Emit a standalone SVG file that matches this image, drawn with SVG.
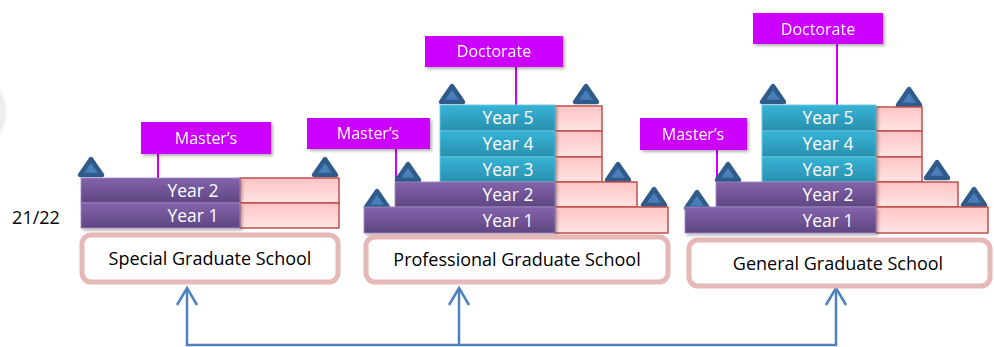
<svg xmlns="http://www.w3.org/2000/svg" width="994" height="347" viewBox="0 0 994 347">
<style>
.lbl{fill:#cc00ff}
.lt{font-family:"Open Sans","Liberation Sans",Arial,sans-serif;font-size:16px;fill:#fff;text-anchor:middle}
.yt{font-family:"Open Sans","Liberation Sans",Arial,sans-serif;font-size:17.5px;fill:#fff;text-anchor:middle}
.st{font-family:"Open Sans","Liberation Sans",Arial,sans-serif;font-size:18px;fill:#000;text-anchor:middle}
.pk{fill:url(#gPink);stroke:#c0504d;stroke-width:1.5}
.pu{fill:url(#gPurple);stroke:#a08cc0;stroke-width:0.8}
.cy{fill:url(#gCyan);stroke:#6cc8e0;stroke-width:0.8}
.sch{fill:#fff;stroke:#e6b9b8;stroke-width:5}
.mc{stroke:#cc00ff;stroke-width:2;fill:none}
.bc{stroke:#4f81bd;stroke-width:2.5;fill:none}
</style>
<defs>
<linearGradient id="gPink" x1="0" y1="0" x2="0" y2="1"><stop offset="0" stop-color="#ffc4c4"/><stop offset="1" stop-color="#ffe4e4"/></linearGradient>
<linearGradient id="gPurple" x1="0" y1="0" x2="0" y2="1"><stop offset="0" stop-color="#8463ab"/><stop offset="1" stop-color="#5e4682"/></linearGradient>
<linearGradient id="gCyan" x1="0" y1="0" x2="0" y2="1"><stop offset="0" stop-color="#36b4d6"/><stop offset="1" stop-color="#2a8fae"/></linearGradient>
<filter id="sh" x="-10%" y="-20%" width="130%" height="160%"><feDropShadow dx="2" dy="2" stdDeviation="1.5" flood-color="#000" flood-opacity="0.3"/></filter>
<filter id="bl"><feGaussianBlur stdDeviation="2"/></filter>
<path id="tri" d="M0,0 L-11,16 L11,16 Z" fill="#4a7ebb" stroke="#2f5b8a" stroke-width="4.5" stroke-linejoin="round"/>
<path id="ahd" d="M-10,17 L0,0 L10,17" fill="none" stroke="#4f81bd" stroke-width="2.5"/>
</defs>
<rect width="994" height="347" fill="#fff"/>
<ellipse cx="-42" cy="112" rx="45" ry="40" fill="none" stroke="#d8d8d8" stroke-width="3" filter="url(#bl)"/>
<text x="36" y="224" font-family="Open Sans,Liberation Sans,Arial,sans-serif" font-size="18" text-anchor="middle" fill="#000">21/22</text>

<g id="connectors">
<line class="mc" x1="158" y1="154" x2="158" y2="178"/>
<line class="mc" x1="396" y1="149" x2="396" y2="182"/>
<line class="mc" x1="516" y1="67" x2="516" y2="105"/>
<line class="mc" x1="717" y1="150" x2="717" y2="182"/>
<line class="mc" x1="837" y1="44" x2="837" y2="105"/>
<polyline class="bc" points="187,289 187,345 836,345 836,289"/>
<line class="bc" x1="459" y1="345" x2="459" y2="289"/>
<use href="#ahd" x="187" y="288"/>
<use href="#ahd" x="459" y="288"/>
<use href="#ahd" x="836" y="288"/>
</g>

<g id="special">
<g id="special-masters" filter="url(#sh)"><rect class="lbl" x="141" y="122" width="130" height="32"/><text class="lt" x="206" y="144">Master’s</text></g>
<use href="#tri" x="91" y="159"/><use href="#tri" x="325" y="159"/>
<g id="special-y2"><rect class="pk" x="240" y="178" width="99" height="25"/><rect class="pu" x="81" y="178" width="159" height="25" filter="url(#sh)"/><text class="yt" x="193" y="197">Year 2</text></g>
<g id="special-y1"><rect class="pk" x="240" y="203" width="99" height="25"/><rect class="pu" x="81" y="203" width="159" height="25" filter="url(#sh)"/><text class="yt" x="193" y="222">Year 1</text></g>
<g id="special-school"><rect class="sch" x="82" y="235" width="256" height="47" rx="9"/><text class="st" x="210" y="265">Special Graduate School</text></g>
</g>

<g id="professional">
<g id="prof-doctorate" filter="url(#sh)"><rect class="lbl" x="425" y="36" width="138" height="31"/><text class="lt" x="494" y="57">Doctorate</text></g>
<g id="prof-masters" filter="url(#sh)"><rect class="lbl" x="307" y="118" width="123" height="31"/><text class="lt" x="368" y="139">Master’s</text></g>
<use href="#tri" x="452" y="86"/><use href="#tri" x="586" y="86"/>
<use href="#tri" x="408" y="164"/><use href="#tri" x="618" y="164"/>
<use href="#tri" x="377" y="191"/><use href="#tri" x="654" y="189"/>
<g id="prof-y5"><rect class="pk" x="555" y="106" width="47" height="25"/><rect class="cy" x="440" y="105" width="115" height="26" filter="url(#sh)"/><text class="yt" x="508" y="124">Year 5</text></g>
<g id="prof-y4"><rect class="pk" x="555" y="131" width="47" height="26"/><rect class="cy" x="440" y="131" width="115" height="26" filter="url(#sh)"/><text class="yt" x="508" y="150">Year 4</text></g>
<g id="prof-y3"><rect class="pk" x="555" y="157" width="47" height="25"/><rect class="cy" x="440" y="157" width="115" height="25" filter="url(#sh)"/><text class="yt" x="508" y="176">Year 3</text></g>
<g id="prof-y2"><rect class="pk" x="555" y="182" width="82" height="25"/><rect class="pu" x="395" y="182" width="160" height="25" filter="url(#sh)"/><text class="yt" x="508" y="201">Year 2</text></g>
<g id="prof-y1"><rect class="pk" x="555" y="207" width="113" height="26"/><rect class="pu" x="364" y="207" width="191" height="26" filter="url(#sh)"/><text class="yt" x="508" y="227">Year 1</text></g>
<g id="prof-school"><rect class="sch" x="366" y="237" width="302" height="45" rx="9"/><text class="st" x="517" y="266">Professional Graduate School</text></g>
</g>

<g id="general">
<g id="gen-doctorate" filter="url(#sh)"><rect class="lbl" x="753" y="13" width="130" height="31"/><text class="lt" x="818" y="35">Doctorate</text></g>
<g id="gen-masters" filter="url(#sh)"><rect class="lbl" x="640" y="118" width="107" height="32"/><text class="lt" x="693" y="140">Master’s</text></g>
<use href="#tri" x="773" y="86"/><use href="#tri" x="909" y="89"/>
<use href="#tri" x="728" y="164"/><use href="#tri" x="937" y="162"/>
<use href="#tri" x="697" y="192"/><use href="#tri" x="974" y="189"/>
<g id="gen-y5"><rect class="pk" x="876" y="107" width="46" height="24"/><rect class="cy" x="762" y="105" width="114" height="26" filter="url(#sh)"/><text class="yt" x="828" y="124">Year 5</text></g>
<g id="gen-y4"><rect class="pk" x="876" y="131" width="46" height="26"/><rect class="cy" x="762" y="131" width="114" height="26" filter="url(#sh)"/><text class="yt" x="828" y="150">Year 4</text></g>
<g id="gen-y3"><rect class="pk" x="876" y="157" width="46" height="25"/><rect class="cy" x="762" y="157" width="114" height="25" filter="url(#sh)"/><text class="yt" x="828" y="176">Year 3</text></g>
<g id="gen-y2"><rect class="pk" x="876" y="182" width="82" height="25"/><rect class="pu" x="716" y="182" width="160" height="25" filter="url(#sh)"/><text class="yt" x="828" y="201">Year 2</text></g>
<g id="gen-y1"><rect class="pk" x="876" y="207" width="112" height="26"/><rect class="pu" x="685" y="207" width="191" height="26" filter="url(#sh)"/><text class="yt" x="828" y="227">Year 1</text></g>
<g id="gen-school"><rect class="sch" x="689" y="240" width="301" height="46" rx="9"/><text class="st" x="838" y="270">General Graduate School</text></g>
</g>
</svg>
